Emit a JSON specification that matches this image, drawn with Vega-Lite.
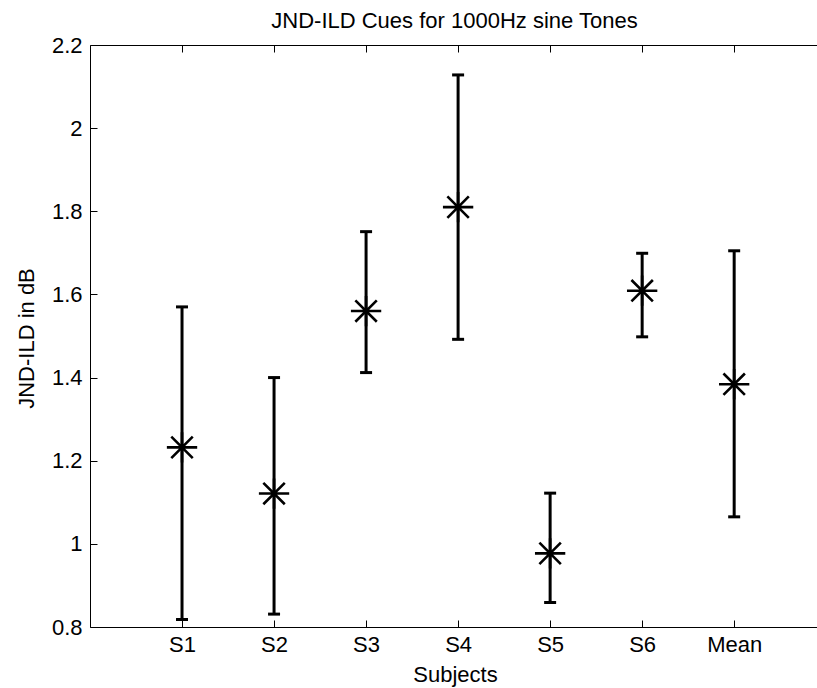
{
  "$schema": "https://vega.github.io/schema/vega-lite/v6.json",
  "autosize": {"type": "none"},
  "padding": {"left": 90, "top": 45, "right": 0, "bottom": 61},
  "width": 727,
  "height": 582,
  "background": "white",
  "config": {
    "view": {"stroke": null},
    "font": "Liberation Sans",
    "axis": {
      "grid": false,
      "domainColor": "black",
      "domainWidth": 1,
      "tickColor": "black",
      "tickWidth": 1,
      "tickSize": 7,
      "labelFont": "Liberation Sans",
      "labelFontSize": 22,
      "labelColor": "black",
      "labelFlush": false,
      "labelOverlap": false,
      "titleFont": "Liberation Sans",
      "titleFontSize": 22,
      "titleFontWeight": "normal",
      "titleColor": "black"
    }
  },
  "title": {
    "text": "JND-ILD Cues for 1000Hz sine Tones",
    "font": "Liberation Sans",
    "fontSize": 22,
    "fontWeight": "normal",
    "color": "black",
    "baseline": "alphabetic",
    "offset": -16,
    "dx": 1
  },
  "data": {
    "values": [
      {"subject": "S1", "pos": 1, "mean": 1.232, "lo": 0.818, "hi": 1.57},
      {"subject": "S2", "pos": 2, "mean": 1.121, "lo": 0.831, "hi": 1.40},
      {"subject": "S3", "pos": 3, "mean": 1.56, "lo": 1.412, "hi": 1.751},
      {"subject": "S4", "pos": 4, "mean": 1.81, "lo": 1.492, "hi": 2.128},
      {"subject": "S5", "pos": 5, "mean": 0.977, "lo": 0.859, "hi": 1.122},
      {"subject": "S6", "pos": 6, "mean": 1.609, "lo": 1.498, "hi": 1.699},
      {"subject": "Mean", "pos": 7, "mean": 1.384, "lo": 1.065, "hi": 1.705}
    ]
  },
  "layer": [
    {
      "mark": {"type": "rule", "color": "black", "strokeWidth": 3},
      "encoding": {
        "x": {
          "field": "pos",
          "type": "quantitative",
          "scale": {"domain": [0, 7.9], "nice": false, "zero": false},
          "axis": {
            "orient": "bottom",
            "values": [1, 2, 3, 4, 5, 6, 7],
            "labelExpr": "['', 'S1', 'S2', 'S3', 'S4', 'S5', 'S6', 'Mean'][datum.value]",
            "ticks": false,
            "labelPadding": 7,
            "title": "Subjects",
            "titleX": 365,
            "titleY": 54,
            "titleBaseline": "alphabetic",
            "titleAlign": "center"
          }
        },
        "y": {
          "field": "lo",
          "type": "quantitative",
          "scale": {"domain": [0.8, 2.2], "nice": false, "zero": false},
          "axis": {
            "orient": "left",
            "values": [0.8, 1, 1.2, 1.4, 1.6, 1.8, 2, 2.2],
            "format": ".1~f",
            "ticks": false,
            "labelPadding": 8,
            "title": "JND-ILD in dB",
            "titleX": -57,
            "titleY": 293,
            "titleAngle": 270,
            "titleBaseline": "alphabetic",
            "titleAlign": "center"
          }
        },
        "y2": {"field": "hi"}
      }
    },
    {
      "mark": {"type": "tick", "orient": "horizontal", "color": "black", "size": 12, "thickness": 3, "opacity": 1},
      "encoding": {
        "x": {
          "field": "pos",
          "type": "quantitative",
          "axis": {
            "orient": "bottom",
            "offset": -582,
            "values": [1, 2, 3, 4, 5, 6, 7],
            "labels": false,
            "title": null
          }
        },
        "y": {
          "field": "lo",
          "type": "quantitative",
          "axis": {
            "orient": "right",
            "offset": -727,
            "values": [0.8, 1, 1.2, 1.4, 1.6, 1.8, 2, 2.2],
            "domain": false,
            "labels": false,
            "title": null
          }
        }
      }
    },
    {
      "mark": {"type": "tick", "orient": "horizontal", "color": "black", "size": 12, "thickness": 3, "opacity": 1},
      "encoding": {
        "x": {
          "field": "pos",
          "type": "quantitative",
          "axis": {
            "orient": "top",
            "offset": -582,
            "values": [1, 2, 3, 4, 5, 6, 7],
            "domain": false,
            "labels": false,
            "title": null
          }
        },
        "y": {"field": "hi", "type": "quantitative", "axis": null}
      }
    },
    {
      "mark": {
        "type": "point",
        "shape": "M-1,0L1,0M0,-1L0,1M-0.707,-0.707L0.707,0.707M-0.707,0.707L0.707,-0.707",
        "filled": false,
        "stroke": "black",
        "strokeWidth": 2.6,
        "size": 920,
        "opacity": 1
      },
      "encoding": {
        "x": {"field": "pos", "type": "quantitative", "axis": null},
        "y": {"field": "mean", "type": "quantitative", "axis": null}
      }
    }
  ],
  "resolve": {"axis": {"x": "independent", "y": "independent"}}
}
